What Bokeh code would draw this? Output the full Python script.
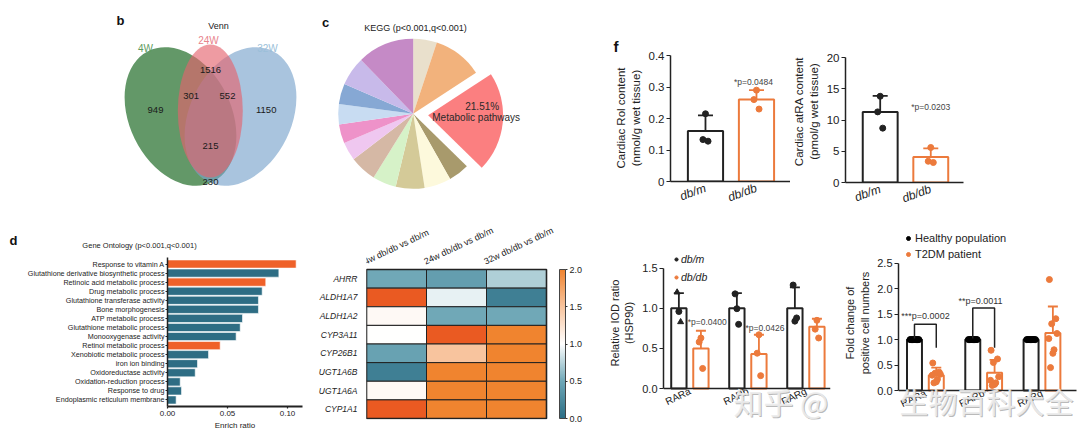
import numpy as np
from bokeh.plotting import figure
from bokeh.models import (Range1d, FixedTicker, Label, Legend, LegendItem, LinearAxis,
                          Whisker, TeeHead, ColumnDataSource, LinearColorMapper, ColorBar,
                          NumeralTickFormatter)
from bokeh.layouts import row, column
from bokeh.transform import transform
from bokeh.embed import file_html
from bokeh.resources import INLINE

FONT = "Liberation Sans"
CJK = "Noto Sans CJK SC"
INK = "#222222"
ORANGE = "#EC7A3C"
TEAL = "#2E6D84"
HILITE = "#EF6129"

# ---------------- data ----------------
venn_sets = ["4W", "24W", "32W"]
venn_regions = ["4W", "24W", "32W", "4W&24W", "24W&32W", "4W&24W&32W", "4W&32W"]
venn_counts = [949, 1516, 1150, 301, 552, 215, 230]

kegg_pct = [5.1, 10.7, 21.51, 4.5, 5.75, 6.2, 5.1, 5.75, 4.0, 4.1, 4.4, 4.4, 6.25, 12.24]
kegg_labels = ["", "", "Metabolic pathways", "", "", "", "", "", "", "", "", "", "", ""]

go_terms = ["Response to vitamin A", "Glutathione derivative biosynthetic process",
            "Retinoic acid metabolic process", "Drug metabolic process",
            "Glutathione transferase activity", "Bone morphogenesis", "ATP metabolic process",
            "Glutathione metabolic process", "Monooxygenase activity", "Retinol metabolic process",
            "Xenobiotic metabolic process", "iron ion binding", "Oxidoreductase activity",
            "Oxidation-reduction process", "Response to drug", "Endoplasmic reticulum membrane"]
go_ratio = [0.1072, 0.0928, 0.0819, 0.0789, 0.0758, 0.0758, 0.0625, 0.0606, 0.0572, 0.0439,
            0.0342, 0.0250, 0.0231, 0.0106, 0.0117, 0.0072]
go_retinoid = [True, False, True, False, False, False, False, False, False, True,
               False, False, False, False, False, False]

heat_genes = ["AHRR", "ALDH1A7", "ALDH1A2", "CYP3A11", "CYP26B1", "UGT1A6B", "UGT1A6A", "CYP1A1"]
heat_cols = ["4w db/db vs db/m", "24w db/db vs db/m", "32w db/db vs db/m"]
heat_4w = [0.50, 2.50, 1.05, 1.00, 0.45, 0.15, 1.05, 2.50]
heat_24w = [0.42, 0.92, 0.50, 2.50, 1.50, 2.00, 2.00, 2.00]
heat_32w = [0.72, 0.15, 0.50, 2.00, 2.00, 2.00, 2.00, 2.00]

f_groups = ["db/m", "db/db"]
rol_mean = [0.16, 0.26]
rol_sd = [0.05, 0.03]
rol_pts = [[0.215, 0.133, 0.128], [0.29, 0.26, 0.23]]
rol_p = "*p=0.0484"
atra_mean = [11.3, 4.1]
atra_sd = [2.55, 1.35]
atra_pts = [[13.8, 11.3, 8.7], [5.6, 3.4, 3.2]]
atra_p = "*p=0.0203"

rar_groups = ["RARa", "RARb", "RARg"]
dbm_mean = [1.0, 1.0, 1.0]
dbm_sd = [0.19, 0.19, 0.26]
dbm_pts = [[0.96, 1.20, 0.83], [0.995, 1.18, 0.80], [0.84, 1.29, 0.88]]
dbm_markers = [["circle", "triangle", "triangle"], ["circle"] * 3, ["circle"] * 3]
dbdb_mean = [0.50, 0.43, 0.77]
dbdb_sd = [0.22, 0.24, 0.10]
dbdb_pts = [[0.63, 0.58, 0.25], [0.67, 0.44, 0.16], [0.85, 0.74, 0.63]]
rar_p = ["*p=0.0400", "*p=0.0426", ""]

hum_healthy_mean = [1.0, 1.0, 1.0]
hum_healthy_pts = [[1.0] * 8, [1.0] * 8, [1.0] * 8]
hum_t2dm_mean = [0.30, 0.35, 1.13]
hum_t2dm_sd = [0.15, 0.25, 0.52]
hum_t2dm_pts = [[0.54, 0.36, 0.34, 0.32, 0.30, 0.22, 0.17, 0.15],
                [0.79, 0.62, 0.55, 0.27, 0.20, 0.15, 0.12, 0.10],
                [2.18, 1.41, 1.31, 1.12, 1.02, 0.80, 0.73, 0.45]]
hum_p = ["***p=0.0002", "**p=0.0011", ""]

watermark = ["知乎", "@", "生物百科大全"]

# ---------------- layout constants (page pixels) ----------------
TOP_H = 226
BOT_Y0, BOT_H = 226, 219
BOT_FB = 419   # frame bottom (page y) of heat / mouse / human panels


def base_fig(w, h, xr, yr, bl, br, bt, bb, **kw):
    p = figure(width=w, height=h, x_range=xr, y_range=yr, output_backend="svg",
               toolbar_location=None, min_border_left=bl, min_border_right=br,
               min_border_top=bt, min_border_bottom=bb, **kw)
    p.outline_line_color = None
    p.grid.grid_line_color = None
    p.background_fill_color = "white"
    p.border_fill_color = "white"
    return p


def style_axis(ax, size="11px"):
    ax.axis_line_color = INK
    ax.axis_line_width = 1.5
    ax.major_tick_line_color = INK
    ax.major_tick_line_width = 1.2
    ax.major_tick_out = 4
    ax.major_tick_in = 0
    ax.minor_tick_line_color = None
    ax.major_label_text_font = FONT
    ax.major_label_text_font_size = size
    ax.major_label_text_color = INK
    ax.axis_label_text_font = FONT
    ax.axis_label_text_font_style = "normal"
    ax.axis_label_text_color = INK
    ax.axis_label_text_font_size = size
    ax.major_label_standoff = 2
    ax.axis_label_standoff = 4


def label_axis(p, text, lo, hi, size="11px"):
    """Outer left axis that only carries the axis title, centred on (lo+hi)/2."""
    ax = LinearAxis(bounds=(lo, hi), axis_label=text, ticker=FixedTicker(ticks=[]))
    style_axis(ax, size)
    ax.axis_line_color = None
    ax.major_tick_line_color = None
    ax.major_label_text_font_size = "0px"
    ax.axis_label_standoff = 4
    p.add_layout(ax, "left")


def slabel(p, fx, fy, x, y, text, size, align="center", style="normal", color=INK,
           font=FONT, alpha=1.0, baseline="middle", angle=0.0):
    """Label in page pixels, given the frame's bottom-left corner (fx, fy) in page pixels."""
    p.add_layout(Label(x=x - fx, y=fy - y, x_units="screen", y_units="screen", text=text,
                       text_font=font, text_font_size=size, text_font_style=style,
                       text_color=color, text_align=align, text_baseline=baseline,
                       text_alpha=alpha, angle=angle))


def dlabel(p, x, y, text, size, align="center", style="normal", color=INK):
    p.add_layout(Label(x=x, y=y, text=text, text_font=FONT, text_font_size=size,
                       text_font_style=style, text_color=color, text_align=align,
                       text_baseline="middle"))


def whisk(p, xs, means, sds, color, cap, lw=1.5):
    src = ColumnDataSource(dict(x=xs, hi=[m + s for m, s in zip(means, sds)],
                                lo=[m - s for m, s in zip(means, sds)]))
    p.add_layout(Whisker(base="x", upper="hi", lower="lo", source=src, line_color=color,
                         line_width=lw,
                         upper_head=TeeHead(size=cap, line_color=color, line_width=lw),
                         lower_head=TeeHead(size=cap, line_color=color, line_width=lw)))


def plain_fig(x0, x1, y0, y1):
    """Axis-less figure whose data space equals page pixels (y negated)."""
    return base_fig(int(x1 - x0), int(y1 - y0), Range1d(x0, x1), Range1d(-y1, -y0), 0, 0, 0, 0,
                    x_axis_type=None, y_axis_type=None)


# ---------------- b: Venn ----------------
venn = plain_fig(0, 305, 0, TOP_H)
venn.ellipse(x=[180, 240, 209.8], y=[-116, -116, -110.5], width=[102, 102, 65],
             height=[146, 146, 133], angle=[26, -26, 0], angle_units="deg",
             fill_color=["#0b5e12", "#78a3cb", "#e5626d"], fill_alpha=0.64, line_color=None)
vx = [155, 210, 265.7, 190.7, 227, 210, 210]
vy = [-109, -69, -109, -95.7, -95.7, -145.7, -181]
for c, x, y in zip(venn_counts, vx, vy):
    dlabel(venn, x, y, str(c), "9.5px", color="#1a1a1a")
for name, x, y, c in zip(venn_sets, [145, 208, 267], [-48, -40, -48],
                         ["#5E9B5E", "#E8838C", "#9BBFD9"]):
    dlabel(venn, x, y, name, "10px", color=c)
dlabel(venn, 218, -25, "Venn", "9px")
dlabel(venn, 120, -20, "b", "13px", style="bold", color="#111")

# ---------------- c: KEGG pie ----------------
pie = plain_fig(305, 580, 0, TOP_H)
kegg_colors = ["#E9E0CC", "#F2B27C", "#FB7F80", "#A89A6C", "#FDF9DC", "#D4CA98", "#D6F2C8",
               "#D5B8A5", "#EFC7F0", "#EE92C9", "#C8DCF2", "#86A8D4", "#C8BAEA", "#C58AC6"]
pct = np.array(kegg_pct, dtype=float)
edges = np.concatenate([[0.0], np.cumsum(pct)]) / pct.sum() * 2 * np.pi
starts = np.pi / 2 - edges[1:]
ends = np.pi / 2 - edges[:-1]
mids = (starts + ends) / 2
shift = np.array([15.0 if lab else 0.0 for lab in kegg_labels])
PCX, PCY, PR = 412.7, -113.3, 75
pie.wedge(x=PCX + shift * np.cos(mids), y=PCY + shift * np.sin(mids), radius=PR,
          start_angle=starts, end_angle=ends, fill_color=kegg_colors, line_color=None)
k = kegg_labels.index("Metabolic pathways")
dlabel(pie, 481.7, -106, f"{kegg_pct[k]:.2f}%", "10px", color="#2a2a2a")
dlabel(pie, 475.7, -116.7, kegg_labels[k], "10px", color="#2a2a2a")
dlabel(pie, 415, -27, "KEGG (p<0.001,q<0.001)", "9px")
dlabel(pie, 325, -22, "c", "13px", style="bold", color="#111")

# ---------------- f: cardiac retinoids ----------------
fx_idx = np.arange(len(f_groups))
jit3 = [0.0, -0.05, 0.05]


def f_panel(w, xr, yr, bl, br, bt, bb, means, sds, pts, pt_text, pt_xy, yticks, bounds):
    p = base_fig(w, TOP_H, xr, yr, bl, br, bt, bb)
    p.vbar(x=fx_idx, top=means, width=0.69, fill_color="white",
           line_color=[INK, ORANGE], line_width=2)
    for i, c in zip(fx_idx, [INK, ORANGE]):
        whisk(p, [int(i)], [means[i]], [sds[i]], c, 15, 1.8)
        p.scatter(x=[i + j for j in jit3], y=pts[i], size=6, color=c)
    dlabel(p, pt_xy[0], pt_xy[1], pt_text, "8.5px", color="#444")
    for ax in p.axis:
        style_axis(ax, "11.5px")
    p.xaxis.ticker = FixedTicker(ticks=list(fx_idx))
    p.xaxis.major_label_overrides = {int(i): g for i, g in zip(fx_idx, f_groups)}
    p.xaxis.major_label_orientation = 0.35
    p.xaxis.major_label_text_font_style = "italic"
    p.xaxis.major_label_text_font_size = "12px"
    p.xaxis.major_tick_out = 0
    p.xaxis.major_label_standoff = 6
    p.yaxis.ticker = FixedTicker(ticks=yticks)
    p.yaxis.major_label_overrides = {0: "0"}
    p.yaxis.bounds = bounds
    return p


# f1: frame x 670..790, y 54..181 ; 0.1 unit = 31.5 px
f1 = f_panel(210, Range1d(-0.686, 1.667), Range1d(0, 127 / 315), 90, 0, 54, TOP_H - 181,
             rol_mean, rol_sd, rol_pts, rol_p, (0.94, 0.315), [0, 0.1, 0.2, 0.3, 0.4], (0, 0.4))
label_axis(f1, "Cardiac Rol content\n(nmol/g wet tissue)", 0.05, 0.40, "11.5px")
f1.title.text = "f"
f1.title.align = "left"
f1.title.offset = 613 - 670
f1.title.standoff = 0
f1.title.text_font = FONT
f1.title.text_font_size = "15px"
f1.title.text_font_style = "bold"
f1.title.text_color = "#111"
# f2: frame x 844..963, y 40..182 ; 5 units = 31.25 px
f2 = f_panel(290, Range1d(-0.686, 1.647), Range1d(0, 142 / 6.25), 54, 117, 40, TOP_H - 182,
             atra_mean, atra_sd, atra_pts, atra_p, (1.0, 12.05), [0, 5, 10, 15, 20], (0, 20))
f2.yaxis[0].axis_label = "Cardiac atRA content\n(pmol/g wet tissue)"

# ---------------- d: GO enrichment ----------------
go_head = plain_fig(0, 310, BOT_Y0, 250)
dlabel(go_head, 13, -240, "d", "13px", style="bold", color="#111")
dlabel(go_head, 139, -245, "Gene Ontology (p<0.001,q<0.001)", "7.5px")

n_go = len(go_terms)
go_y = [n_go - 1 - i for i in range(n_go)]
GO_PX = 145 / n_go                                   # pixels per bar slot (259..404)
go_ybot = -0.5 - 2 / GO_PX                           # frame bottom at page y 406
go_ytop = n_go - 0.5 + 2 / GO_PX                     # frame top at page y 257
go = base_fig(310, BOT_Y0 + BOT_H - 250, Range1d(0, 0.1125), Range1d(go_ybot, go_ytop),
              167, 8, 257 - 250, BOT_Y0 + BOT_H - 406)
go.hbar(y=go_y, right=go_ratio, left=0, height=0.9,
        fill_color=[HILITE if h else TEAL for h in go_retinoid], line_color="white",
        line_width=0.6)
for ax in go.axis:
    style_axis(ax, "7.2px")
go.xaxis.ticker = FixedTicker(ticks=[0, 0.05, 0.1])
go.xaxis.formatter = NumeralTickFormatter(format="0.00")
go.xaxis.axis_line_width = 2.2
go.xaxis.major_tick_out = 2
go.xaxis.major_label_text_font_size = "8px"
go.xaxis.major_label_standoff = 2
go.xaxis.axis_label = "Enrich ratio"
go.xaxis.axis_label_text_font_size = "8px"
go.xaxis.axis_label_standoff = 2
go.yaxis.ticker = FixedTicker(ticks=go_y)
go.yaxis.major_label_overrides = {int(y): t for y, t in zip(go_y, go_terms)}
go.yaxis.major_tick_out = 2
go.yaxis.major_label_standoff = 1

# ---------------- heatmap ----------------
anchors = [(0.0, "#2b6e85"), (0.5, "#6fa8b7"), (1.0, "#ffffff"), (1.5, "#f8c59f"),
           (2.0, "#f0842f")]


def _rgb(h):
    return np.array([int(h[i:i + 2], 16) for i in (1, 3, 5)], dtype=float)


pal = []
for t in np.linspace(0, 2, 256):
    for (a0, c0), (a1, c1) in zip(anchors[:-1], anchors[1:]):
        if a0 <= t <= a1:
            f = (t - a0) / (a1 - a0)
            c = _rgb(c0) * (1 - f) + _rgb(c1) * f
            pal.append("#%02x%02x%02x" % tuple(int(round(v)) for v in c))
            break
mapper = LinearColorMapper(palette=pal, low=0, high=2, high_color="#EA5A22")
n_g, n_c = len(heat_genes), len(heat_cols)
gene_y = [n_g - 1 - i for i in range(n_g)]
hx, hy, hv = [], [], []
for j, colvals in enumerate([heat_4w, heat_24w, heat_32w]):
    for yy, v in zip(gene_y, colvals):
        hx.append(j + 0.5)
        hy.append(yy)
        hv.append(v)
hsrc = ColumnDataSource(dict(x=hx, y=hy, v=hv))
H_PX = (418 - 269) / n_g
H_COL = 60.0
heat_left = 366
heat = base_fig(280, BOT_H, Range1d(0, n_c + (590 - heat_left - n_c * H_COL) / H_COL),
                Range1d(-0.5 - (BOT_FB - 418) / H_PX, n_g - 0.5 + (269 - BOT_Y0) / H_PX),
                heat_left - 310, 0, 0, BOT_Y0 + BOT_H - BOT_FB)
heat.rect(x="x", y="y", width=1, height=1, source=hsrc,
          fill_color=transform("v", mapper), line_color=INK, line_width=1)
heat.rect(x=[n_c / 2], y=[(n_g - 1) / 2], width=n_c, height=n_g, fill_color=None,
          line_color=INK, line_width=1.6)
heat.xaxis.visible = False
style_axis(heat.yaxis[0], "8.5px")
heat.yaxis.axis_line_color = None
heat.yaxis.major_tick_line_color = None
heat.yaxis.ticker = FixedTicker(ticks=gene_y)
heat.yaxis.major_label_overrides = {int(y): g for y, g in zip(gene_y, heat_genes)}
heat.yaxis.major_label_text_font_style = "italic"
heat.yaxis.major_label_standoff = 5
for j, name in enumerate(heat_cols):
    heat.add_layout(Label(x=j, y=BOT_FB - 266, x_units="data", y_units="screen", text=name,
                          text_font=FONT, text_font_size="9px", text_color=INK,
                          text_align="left", text_baseline="bottom", angle=0.44))
cb = ColorBar(color_mapper=mapper, ticker=FixedTicker(ticks=[0, 0.5, 1, 1.5, 2]),
              formatter=NumeralTickFormatter(format="0.0"), width=6, height=149,
              location=(559 - heat_left, BOT_FB - 418), margin=0, padding=0,
              major_label_text_font=FONT, major_label_text_font_size="9px",
              major_label_text_color=INK, major_tick_in=0, major_tick_out=2,
              major_tick_line_color="#333", minor_tick_line_color=None,
              bar_line_color="#444", border_line_color=None, background_fill_alpha=0,
              label_standoff=2)
heat.add_layout(cb)

# ---------------- RAR (mouse) ----------------
ridx = np.arange(len(rar_groups))
OFF = 0.19
RPX = 80.2          # px per unit, zero at page y 388
rar = base_fig(243, BOT_H, Range1d(-0.455, 2.424),
               Range1d(-(BOT_FB - 388) / RPX, (388 - BOT_Y0) / RPX),
               73, 3, 0, BOT_Y0 + BOT_H - BOT_FB)
rar.vbar(x=ridx - OFF, top=dbm_mean, width=0.264, fill_color="white", line_color=INK,
         line_width=2)
rar.vbar(x=ridx + OFF, top=dbdb_mean, width=0.264, fill_color="white", line_color=ORANGE,
         line_width=2)
whisk(rar, list(ridx - OFF), dbm_mean, dbm_sd, INK, 10, 1.8)
whisk(rar, list(ridx + OFF), dbdb_mean, dbdb_sd, ORANGE, 10, 1.8)
mx, my, mm, ox, oy = [], [], [], [], []
for i in ridx:
    for j, v, m in zip(jit3, dbm_pts[i], dbm_markers[i]):
        mx.append(i - OFF + j * 0.6)
        my.append(v)
        mm.append(m)
    for j, v in zip(jit3, dbdb_pts[i]):
        ox.append(i + OFF + j * 0.6)
        oy.append(v)
r_m = rar.scatter(x="x", y="y", marker="m", size=6, color=INK,
                  source=ColumnDataSource(dict(x=mx, y=my, m=mm)))
r_o = rar.scatter(x=ox, y=oy, size=6, color=ORANGE)
dlabel(rar, 0.298, 0.827, rar_p[0], "8.5px", color="#444")
dlabel(rar, 1.295, 0.76, rar_p[1], "8.5px", color="#444")
for ax in rar.axis:
    style_axis(ax, "11px")
rar.xaxis.fixed_location = 0
rar.xaxis.ticker = FixedTicker(ticks=list(ridx))
rar.xaxis.major_label_overrides = {int(i): g for i, g in zip(ridx, rar_groups)}
rar.xaxis.major_label_orientation = 0.45
rar.xaxis.major_label_text_font_size = "10px"
rar.xaxis.major_tick_out = 0
rar.xaxis.major_label_standoff = 2
rar.yaxis.ticker = FixedTicker(ticks=[0, 0.5, 1.0, 1.5])
rar.yaxis.formatter = NumeralTickFormatter(format="0.0")
rar.yaxis.bounds = (0, 1.5)
rar.yaxis.axis_label = "Relative IOD ratio\n(HSP90)"
leg = Legend(items=[LegendItem(label="db/m", renderers=[r_m], index=0),
                    LegendItem(label="db/db", renderers=[r_o], index=0)],
             location=(9, BOT_FB - 284), label_text_font=FONT, label_text_font_size="10.5px",
             label_text_font_style="italic", label_text_color=INK, glyph_width=8,
             glyph_height=14, label_height=14, spacing=4, padding=0, margin=0,
             label_standoff=1, border_line_color=None, background_fill_alpha=0)
rar.add_layout(leg)

# ---------------- RAR (human) ----------------
HOFF = 0.187
HPX = 50.9          # px per unit, zero at page y 390
hum = base_fig(247, BOT_H, Range1d(-0.461, -0.461 + 182 / 58.3),
               Range1d(-(BOT_FB - 390) / HPX, (390 - BOT_Y0) / HPX),
               65, 0, 0, BOT_Y0 + BOT_H - BOT_FB)
hum.vbar(x=ridx - HOFF, top=hum_healthy_mean, width=0.257, fill_color="white",
         line_color=INK, line_width=2)
hum.vbar(x=ridx + HOFF, top=hum_t2dm_mean, width=0.257, fill_color="white",
         line_color=ORANGE, line_width=2)
whisk(hum, list(ridx + HOFF), hum_t2dm_mean, hum_t2dm_sd, ORANGE, 10, 1.8)
jit8 = np.linspace(-0.075, 0.075, 8)
jit8b = [-0.06, 0.05, -0.02, 0.07, -0.07, 0.02, 0.0, -0.04]
hx_, hy_, tx_, ty_ = [], [], [], []
for i in ridx:
    for j, v in zip(jit8, hum_healthy_pts[i]):
        hx_.append(i - HOFF + j)
        hy_.append(v)
    for j, v in zip(jit8b, hum_t2dm_pts[i]):
        tx_.append(i + HOFF + j)
        ty_.append(v)
r_h = hum.scatter(x=hx_, y=hy_, size=6, color="black")
r_t = hum.scatter(x=tx_, y=ty_, size=6, color=ORANGE)
br_top = [1.3, 1.62]
hum.multi_line(xs=[[i - HOFF, i - HOFF, i + HOFF, i + HOFF] for i in ridx[:2]],
               ys=[[1.02, t, t, 0.84] for t in br_top], line_color=INK, line_width=1.5)
dlabel(hum, 0.002, 1.454, hum_p[0], "9px", color="#333")
dlabel(hum, 0.945, 1.768, hum_p[1], "9px", color="#333")
for ax in hum.axis:
    style_axis(ax, "11px")
hum.xaxis.fixed_location = 0
hum.xaxis.ticker = FixedTicker(ticks=list(ridx))
hum.xaxis.major_label_overrides = {int(i): g for i, g in zip(ridx, rar_groups)}
hum.xaxis.major_label_orientation = 0.45
hum.xaxis.major_label_text_font_size = "10px"
hum.xaxis.major_tick_out = 0
hum.xaxis.major_label_standoff = 2
hum.xaxis.bounds = (-0.461, 2.6)
hum.yaxis.ticker = FixedTicker(ticks=[0, 0.5, 1.0, 1.5, 2.0, 2.5])
hum.yaxis.formatter = NumeralTickFormatter(format="0.0")
hum.yaxis.bounds = (0, 2.5)
label_axis(hum, "Fold change of\npositive cell numbers", 0.5, 3.04, "11px")
leg2 = Legend(items=[LegendItem(label="Healthy population", renderers=[r_h]),
                     LegendItem(label="T2DM patient", renderers=[r_t])],
              location=(5, BOT_FB - 261), label_text_font=FONT, label_text_font_size="11px",
              label_text_color=INK, glyph_width=10, glyph_height=14, label_height=14,
              spacing=2, padding=0, margin=0, label_standoff=2, border_line_color=None,
              background_fill_alpha=0)
hum.add_layout(leg2)

# ---------------- watermark ----------------
wm1 = watermark[0] + " " + watermark[1]
slabel(rar, 663, BOT_FB, 829, 401, wm1, "30px", align="right", color="#8c8c8c", font=CJK,
       alpha=0.6)
slabel(rar, 663, BOT_FB, 828, 400, wm1, "30px", align="right", color="#ececec", font=CJK,
       alpha=0.92)
slabel(hum, 898, BOT_FB, 900, 401, watermark[2], "29px", align="left", color="#8c8c8c",
       font=CJK, alpha=0.6)
slabel(hum, 898, BOT_FB, 899, 400, watermark[2], "29px", align="left", color="#ececec",
       font=CJK, alpha=0.92)


def box(*items):
    return column(*[row(it, spacing=0) for it in items], spacing=0)


top_row = row(box(venn), box(pie), box(f1), box(f2), spacing=0)
bot_row = row(box(go_head, go), box(heat), box(rar), box(hum), spacing=0)
layout = column(top_row, bot_row, spacing=0)
with open("out.html", "w") as fh:
    fh.write(file_html(layout, INLINE))
